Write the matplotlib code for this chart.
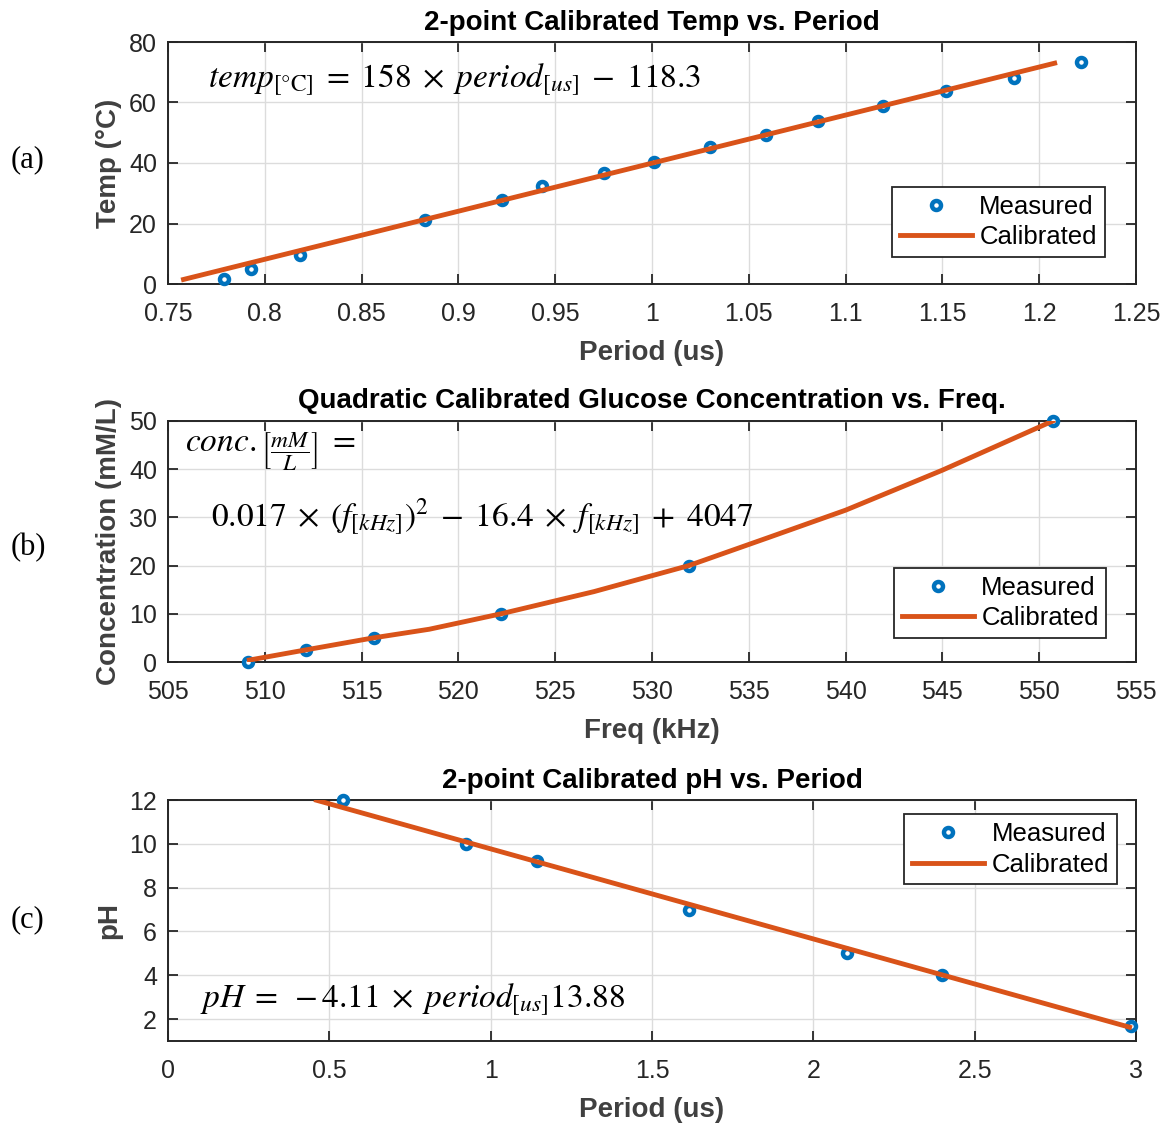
import matplotlib
matplotlib.use("Agg")
import matplotlib.pyplot as plt

# ---------------------------------------------------------------- data ----
# (a) temperature sensor
temp_period = [0.779, 0.793, 0.818, 0.883, 0.9225, 0.943, 0.975, 1.001,
               1.030, 1.0587, 1.086, 1.1193, 1.152, 1.187, 1.2217]
temp_measured = [1.7, 4.9, 9.6, 21.2, 27.9, 32.3, 36.6, 40.4,
                 45.4, 49.3, 54.0, 58.9, 63.8, 68.2, 73.3]
temp_fit_x = [0.758, 1.208]
temp_fit_y = [1.5, 73.0]

# (b) glucose sensor
gluc_freq = [509.13, 512.13, 515.64, 522.2, 531.9, 550.7]
gluc_measured = [0, 2.5, 5, 10, 20, 50]
gluc_fit_x = [509.2, 512.1, 515.6, 518.5, 522.2, 527.0, 531.9, 536.0,
              540.0, 545.0, 550.7]
gluc_fit_y = [0.4, 2.5, 5.0, 6.8, 10.0, 14.6, 20.0, 25.8, 31.5, 39.8, 50.0]

# (c) pH sensor
ph_period = [0.542, 0.9235, 1.1435, 1.614, 2.104, 2.398, 2.983]
ph_measured = [12.0, 10.0, 9.2, 7.0, 5.0, 4.0, 1.7]
ph_fit_x = [0.46, 2.98]
ph_fit_y = [11.99, 1.63]

BLUE = "#0072BD"
ORANGE = "#D95319"
DARK = "#262626"

plt.rcParams["font.family"] = ["Liberation Sans", "DejaVu Sans"]
plt.rcParams["mathtext.fontset"] = "stix"

W, H = 1176, 1127
EQ = 24  # equation font size


def px_axes(fig, left, top, right, bottom):
    return fig.add_axes([left / W, 1 - bottom / H, (right - left) / W,
                         (bottom - top) / H])


def style(ax):
    for s in ax.spines.values():
        s.set_color(DARK)
        s.set_linewidth(1.4)
    ax.tick_params(direction="in", length=7, width=1.3, top=True, right=True,
                   labelsize=18, colors=DARK)
    ax.tick_params(axis="x", pad=13)
    ax.tick_params(axis="y", pad=8)
    ax.grid(True, color="#dcdcdc", linewidth=1.0)
    ax.set_axisbelow(True)


def labels(ax, title, xlabel, ylabel):
    ax.set_title(title, fontsize=20, fontweight="bold", pad=9)
    ax.set_xlabel(xlabel, fontsize=20, fontweight="bold", color="#404040",
                  labelpad=10)
    ax.set_ylabel(ylabel, fontsize=20, fontweight="bold", color="#404040",
                  labelpad=5)


def draw(ax, x, y, fx, fy, loc, anchor):
    ax.plot(x, y, "o", color=BLUE, markersize=6.5, markeredgewidth=3.2,
            markerfacecolor="white", label="Measured", zorder=3,
            clip_on=False)
    ax.plot(fx, fy, "-", color=ORANGE, linewidth=3.5, label="Calibrated",
            zorder=4)
    leg = ax.legend(loc=loc, bbox_to_anchor=anchor, fontsize=18.5,
                    fancybox=False, edgecolor=DARK, framealpha=1,
                    handlelength=2.8, borderpad=0.3, labelspacing=0.25,
                    handletextpad=0.3, borderaxespad=0)
    leg.get_frame().set_linewidth(1.3)
    leg.set_zorder(5)


fig = plt.figure(figsize=(W / 100, H / 100), dpi=100)

# ---- (a)
ax = px_axes(fig, 168, 42, 1136, 284)
draw(ax, temp_period, temp_measured, temp_fit_x, temp_fit_y,
     "lower right", (0.9675, 0.112))
ax.set_xlim(0.75, 1.25)
ax.set_ylim(0, 80)
ax.set_xticks([0.75, 0.8, 0.85, 0.9, 0.95, 1, 1.05, 1.1, 1.15, 1.2, 1.25],
              ["0.75", "0.8", "0.85", "0.9", "0.95", "1", "1.05", "1.1",
               "1.15", "1.2", "1.25"])
ax.set_yticks([0, 20, 40, 60, 80])
style(ax)
labels(ax, "2-point Calibrated Temp vs. Period", "Period (us)", "Temp (°C)")
ax.text(0.7707, 67.4,
        r"$temp_{[\mathrm{°C}]}\;=\;158\;\times\;period_{[us]}\;-\;118.3$",
        fontsize=EQ, va="center", ha="left")

# ---- (b)
ax = px_axes(fig, 168, 421, 1136, 662)
draw(ax, gluc_freq, gluc_measured, gluc_fit_x, gluc_fit_y,
     "lower right", (0.9695, 0.1))
ax.set_xlim(505, 555)
ax.set_ylim(0, 50)
ax.set_xticks(range(505, 556, 5))
ax.set_yticks(range(0, 51, 10))
style(ax)
labels(ax, "Quadratic Calibrated Glucose Concentration vs. Freq.",
       "Freq (kHz)", "Concentration (mM/L)")
ax.text(505.9, 43.5, r"$conc._{\left[\dfrac{mM}{L}\right]}\;=$",
        fontsize=EQ, va="center", ha="left")
ax.text(507.2, 30.0,
        r"$0.017\;\times\;\left(f_{[kHz]}\right)^{2}\;-\;16.4\;\times\;"
        r"f_{[kHz]}\;+\;4047$",
        fontsize=EQ, va="center", ha="left")

# ---- (c)
ax = px_axes(fig, 168, 800, 1136, 1041)
draw(ax, ph_period, ph_measured, ph_fit_x, ph_fit_y,
     "upper right", (0.98, 0.94))
ax.set_xlim(0, 3)
ax.set_ylim(1, 12)
ax.set_xticks([0, 0.5, 1, 1.5, 2, 2.5, 3],
              ["0", "0.5", "1", "1.5", "2", "2.5", "3"])
ax.set_yticks([2, 4, 6, 8, 10, 12])
style(ax)
labels(ax, "2-point Calibrated pH vs. Period", "Period (us)", "pH")
ax.text(0.099, 2.87, r"$pH\;=\;-4.11\;\times\;period_{[us]}13.88$",
        fontsize=EQ, va="center", ha="left")

# panel letters
for label, y in (("(a)", 160), ("(b)", 548), ("(c)", 920)):
    fig.text(28 / W, 1 - y / H, label, fontsize=22, family="Liberation Serif",
             va="center", ha="center")

fig.savefig("out.png", dpi=100, facecolor="white")
